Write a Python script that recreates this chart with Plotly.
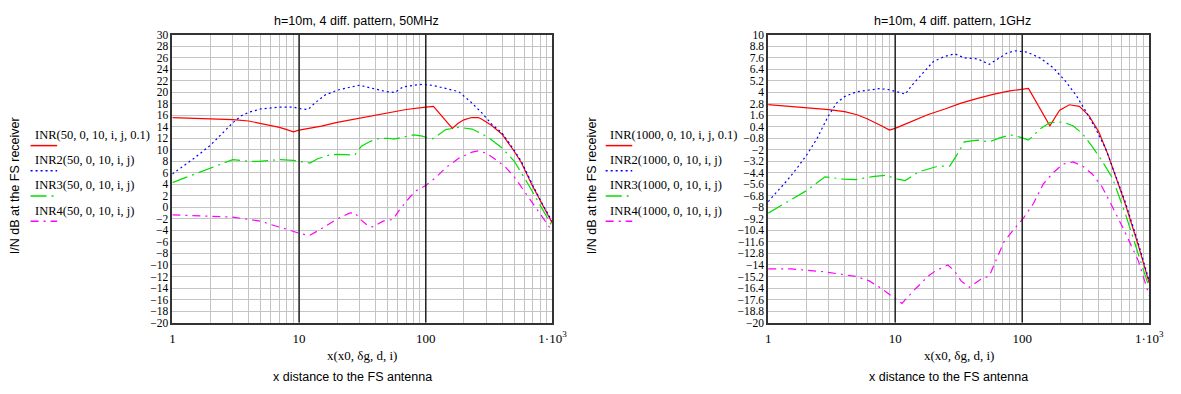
import plotly.graph_objects as go

W, H = 1181, 394

# ---------------- data: left panel (50 MHz) ----------------
red50_x = [1, 2, 3, 4, 5, 6, 7, 8, 9, 10, 12, 15, 20, 30, 40, 50, 70, 100, 115, 162, 180, 200, 230, 260, 277, 331, 400, 500, 567, 700, 850, 1000]
red50_y = [15.6, 15.4, 15.25, 15.0, 14.6, 14.3, 13.9, 13.5, 13.1, 13.4, 13.7, 14.1, 14.75, 15.5, 16.0, 16.5, 17.0, 17.4, 17.55, 13.7, 14.6, 15.2, 15.6, 15.6, 15.3, 14.2, 12.7, 9.7, 7.8, 3.6, 0.0, -2.8]

blue50_x = [1, 1.5, 2, 2.5, 3, 3.5, 4, 5, 7, 9, 10.4, 11.8, 13.3, 16, 20, 25.6, 30, 39, 49, 57, 66, 80, 92, 113, 144, 182, 232, 277, 331, 400, 500, 567, 700, 850, 1000]
blue50_y = [5.8, 8.6, 10.8, 13.0, 14.7, 15.9, 16.5, 17.1, 17.4, 17.4, 17.1, 17.0, 18.1, 19.5, 20.35, 20.9, 21.2, 20.6, 20.1, 19.95, 20.9, 21.2, 21.35, 21.2, 20.6, 20.1, 18.1, 16.4, 14.45, 12.9, 9.9, 8.0, 3.8, 0.2, -2.5]

green50_x = [1, 2, 3, 4, 4.8, 5.8, 7.1, 9, 10, 12.2, 14, 17.4, 20, 25.6, 27.5, 31, 36, 41, 50, 56, 70, 80, 92, 113, 144, 182, 232, 310, 400, 500, 640, 811, 1000]
green50_y = [4.3, 6.8, 8.3, 8.0, 8.0, 8.15, 8.3, 8.15, 8.0, 7.7, 8.45, 9.1, 9.2, 9.1, 9.1, 10.6, 11.4, 11.9, 12.0, 11.85, 12.4, 12.6, 12.4, 11.9, 13.5, 13.9, 13.6, 12.2, 10.3, 8.0, 4.1, 0.1, -3.4]

mag50_x = [1, 1.5, 2, 3, 4, 5, 6, 7, 8, 10, 12, 14, 17, 20, 25, 27.5, 30.5, 35, 38, 46, 55, 62, 75, 84, 100, 120, 144, 183, 232, 260, 300, 331, 421, 503, 617, 812, 1000]
mag50_y = [-1.3, -1.45, -1.5, -1.7, -2.1, -2.4, -3.0, -3.4, -3.8, -4.5, -4.9, -4.1, -3.0, -2.0, -1.0, -0.9, -2.1, -3.2, -3.4, -2.4, -2.1, -0.45, 1.8, 2.9, 3.8, 5.2, 6.9, 8.55, 9.6, 9.8, 9.4, 8.8, 7.1, 5.2, 2.4, -1.3, -4.2]

# ---------------- data: right panel (1 GHz) ----------------
red1g_x = [1, 2, 3, 4, 5, 6, 7, 8, 9, 10, 12, 15, 18, 24.6, 33, 44.5, 60, 80, 100, 112, 165, 197, 235, 282, 337, 402, 470, 646, 822, 1000]
red1g_y = [2.7, 2.42, 2.18, 1.98, 1.65, 1.24, 0.84, 0.43, 0.05, 0.23, 0.67, 1.17, 1.65, 2.25, 2.86, 3.36, 3.8, 4.14, 4.3, 4.4, 0.5, 2.12, 2.69, 2.52, 1.5, -0.17, -2.4, -7.6, -12.0, -15.9]

blue1g_x = [1, 1.41, 1.69, 2.02, 2.42, 2.97, 3.45, 4.0, 4.93, 6.25, 7.5, 8.9, 10.4, 12, 13.5, 16.2, 20, 24.6, 29.4, 35.1, 44.5, 55, 65.6, 76, 88, 109, 138, 175, 222, 265, 317, 380, 453, 646, 822, 1000]
blue1g_y = [-7.4, -5.2, -3.9, -2.5, -0.85, 1.5, 2.86, 3.54, 4.04, 4.2, 4.37, 4.27, 4.04, 3.8, 4.7, 5.9, 7.2, 7.74, 8.0, 7.57, 7.47, 6.9, 7.57, 8.08, 8.31, 8.18, 7.57, 6.56, 5.05, 3.7, 2.0, 0.16, -1.86, -7.4, -11.8, -15.7]

green1g_x = [1, 1.5, 2.02, 2.8, 3.9, 4.93, 6.6, 8.4, 10.4, 12, 15.3, 21.8, 26.9, 31.2, 35, 44.5, 55, 65.6, 80.7, 96, 112, 138, 165, 209, 251, 299, 357, 427, 511, 646, 822, 1000]
green1g_y = [-8.6, -7.24, -6.23, -4.82, -5.05, -5.1, -4.8, -4.65, -5.05, -5.2, -4.3, -3.7, -3.7, -2.36, -1.18, -1.0, -1.18, -0.78, -0.44, -0.68, -1.0, 0.16, 0.84, 0.9, 0.5, -0.34, -1.69, -3.2, -4.9, -8.6, -13.0, -16.4]

mag1g_x = [1, 1.5, 2.02, 2.72, 3.9, 4.93, 6.25, 7.9, 9.5, 11.3, 14.4, 18.2, 20.6, 26, 29.4, 33, 38.4, 47.2, 55, 60, 71.8, 85.8, 102.5, 122.5, 146.6, 175, 209, 251, 299, 357, 427, 511, 646, 822, 1000]
mag1g_y = [-14.4, -14.4, -14.55, -14.7, -15.0, -15.2, -15.66, -16.5, -17.3, -18.0, -16.5, -15.15, -14.65, -14.0, -14.65, -15.66, -16.33, -15.5, -15.15, -14.0, -11.6, -10.3, -9.1, -7.6, -5.56, -4.4, -3.5, -3.27, -3.7, -4.55, -5.9, -7.9, -10.6, -13.6, -17.2]

# ---------------- tick labels / texts ----------------
x_major_vals = [1, 10, 100, 1000]
x_major_text = ["1", "10", "100", "1·10<sup>3</sup>"]
x_minor_vals = [2, 3, 4, 5, 6, 7, 8, 9, 20, 30, 40, 50, 60, 70, 80, 90, 200, 300, 400, 500, 600, 700, 800, 900]
y_ticks_left = [30, 28, 26, 24, 22, 20, 18, 16, 14, 12, 10, 8, 6, 4, 2, 0, -2, -4, -6, -8, -10, -12, -14, -16, -18, -20]
y_ticks_right = [10, 8.8, 7.6, 6.4, 5.2, 4, 2.8, 1.6, 0.4, -0.8, -2, -3.2, -4.4, -5.6, -6.8, -8, -9.2, -10.4, -11.6, -12.8, -14, -15.2, -16.4, -17.6, -18.8, -20]
titles = ["h=10m, 4 diff. pattern, 50MHz", "h=10m, 4 diff. pattern, 1GHz"]
legend_left = ["INR(50, 0, 10, i, j, 0.1)", "INR2(50, 0, 10, i, j)", "INR3(50, 0, 10, i, j)", "INR4(50, 0, 10, i, j)"]
legend_right = ["INR(1000, 0, 10, i, j, 0.1)", "INR2(1000, 0, 10, i, j)", "INR3(1000, 0, 10, i, j)", "INR4(1000, 0, 10, i, j)"]
xlabel1 = "x(x0, δg, d, i)"
xlabel2 = "x distance to the FS antenna"
ylabel = "I/N dB at the FS receiver"

colors = ["#ff0000", "#0000ff", "#00e000", "#ff00ff"]
dashes = ["solid", "2px,3px", "16px,5px,2px,5px", "8px,5px,2px,5px"]

SERIF = "Liberation Serif, Times New Roman, serif"
SANS = "Liberation Sans, Arial, sans-serif"


def fmt(v):
    return ("%g" % v).replace("-", "−")


def px(x):
    return x / W


def py(y):
    return 1 - y / H


fig = go.Figure()

panels = [
    dict(series=[(red50_x, red50_y), (blue50_x, blue50_y), (green50_x, green50_y), (mag50_x, mag50_y)],
         xa="x", ya="y", x0=172, x1=558, yt=y_ticks_left, yr=[-20, 30], legend=legend_left,
         title=titles[0], ylab_x=13, leg_x=30),
    dict(series=[(red1g_x, red1g_y), (blue1g_x, blue1g_y), (green1g_x, green1g_y), (mag1g_x, mag1g_y)],
         xa="x2", ya="y2", x0=777, x1=1164, yt=y_ticks_right, yr=[-20, 10], legend=legend_right,
         title=titles[1], ylab_x=598, leg_x=614),
]

PT, PB = 29.5, 326.5
annotations = []
shapes = []
layout_axes = {}

for i, p in enumerate(panels):
    for (xs, ys), c, d in zip(p["series"], colors, dashes):
        fig.add_trace(go.Scatter(x=xs, y=ys, mode="lines", xaxis=p["xa"], yaxis=p["ya"],
                                 line=dict(color=c, width=1.2, dash=d), showlegend=False,
                                 hoverinfo="skip"))
    suffix = "" if i == 0 else "2"
    layout_axes["xaxis" + suffix] = dict(
        type="log", range=[0, 3], domain=[px(p["x0"]), px(p["x1"])], anchor=p["ya"],
        tickvals=x_major_vals, ticktext=x_major_text,
        minor=dict(tickvals=x_minor_vals, showgrid=True, gridcolor="#c4c4c4", gridwidth=1, ticks=""),
        showgrid=True, gridcolor="#c4c4c4", gridwidth=1, zeroline=False,
        showline=True, mirror=True, linecolor="#333333", linewidth=1.5, ticks="",
        ticklabelstandoff=3,
        tickfont=dict(family=SERIF, size=13, color="black"), fixedrange=True)
    layout_axes["yaxis" + suffix] = dict(
        range=p["yr"], domain=[py(PB), py(PT)], anchor=p["xa"],
        tickvals=p["yt"], ticktext=[fmt(v) for v in p["yt"]],
        showgrid=True, gridcolor="#c4c4c4", gridwidth=1, zeroline=False,
        showline=True, mirror=True, linecolor="#333333", linewidth=1.5, ticks="",
        tickfont=dict(family=SERIF, size=11.5, color="black"), fixedrange=True)
    for xv in (10, 100):
        shapes.append(dict(type="line", xref=p["xa"], yref=p["ya"] + " domain", x0=xv, x1=xv, y0=0, y1=1,
                           line=dict(color="#222222", width=1.5), layer="above"))
    cx = (p["x0"] + p["x1"]) / 2
    annotations.append(dict(text=p["title"], x=px(cx - 6), y=py(15), xref="paper", yref="paper",
                            showarrow=False, xanchor="center", yanchor="middle",
                            font=dict(family=SANS, size=12.5, color="black")))
    annotations.append(dict(text=xlabel1, x=px(cx), y=py(360), xref="paper", yref="paper",
                            showarrow=False, xanchor="center", yanchor="middle",
                            font=dict(family=SERIF, size=13, color="black")))
    annotations.append(dict(text=xlabel2, x=px(cx - 10), y=py(383), xref="paper", yref="paper",
                            showarrow=False, xanchor="center", yanchor="middle",
                            font=dict(family=SANS, size=12.5, color="black")))
    annotations.append(dict(text=ylabel, x=px(p["ylab_x"]), y=py(185), xref="paper", yref="paper",
                            showarrow=False, xanchor="center", yanchor="middle", textangle=-90,
                            font=dict(family=SANS, size=12.5, color="black")))
    for k, (lab, c, d) in enumerate(zip(p["legend"], colors, dashes)):
        ty = 133 + 26 * k
        annotations.append(dict(text=lab, x=px(p["leg_x"]), y=py(ty), xref="paper", yref="paper",
                                showarrow=False, xanchor="left", yanchor="middle",
                                font=dict(family=SERIF, size=12.5, color="black")))
        shapes.append(dict(type="line", xref="paper", yref="paper",
                           x0=px(p["leg_x"] - 2), x1=px(p["leg_x"] + 25), y0=py(ty + 11), y1=py(ty + 11),
                           line=dict(color=c, width=1.5, dash=d)))

fig.update_layout(
    width=W, height=H, margin=dict(l=0, r=0, t=0, b=0),
    paper_bgcolor="white", plot_bgcolor="white",
    annotations=annotations, shapes=shapes, showlegend=False,
    **layout_axes)

fig.write_html("out.html", config={"displayModeBar": False})
